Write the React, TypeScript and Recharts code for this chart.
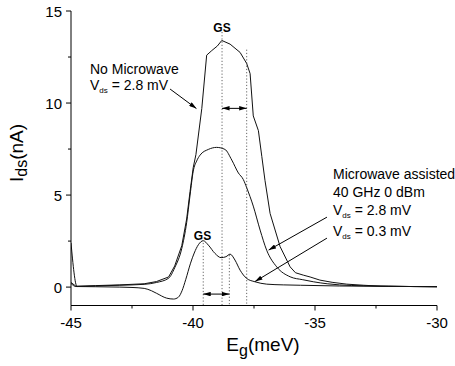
import React from 'react';
import { LineChart, Line, XAxis, YAxis, ReferenceLine } from 'recharts';

// No microwave, Vds = 2.8 mV
const noMwX = [-45, -44.8, -44, -43, -42, -41.5, -41, -40.75, -40.46, -40.26, -40.12, -39.99, -39.88, -39.64, -39.44, -39.23, -39.0, -38.82, -38.48, -38.07, -37.8, -37.66, -37.53, -37.32, -37.18, -37.05, -36.84, -36.43, -36.02, -35.8, -35.48, -35.2, -34.8, -34.3, -33.7, -33, -32.3, -31, -30];
const noMwY = [0.25, 0.05, 0.08, 0.12, 0.18, 0.3, 0.55, 1.15, 2.25, 3.7, 5.2, 6.5, 7.2, 9.7, 12.6, 12.85, 13.1, 13.4, 13.2, 12.75, 12.15, 11.6, 9.3, 8.5, 7.1, 5.8, 4.0, 2.2, 1.1, 0.78, 0.65, 0.55, 0.38, 0.26, 0.16, 0.1, 0.05, 0.03, 0.02];

// Microwave assisted, Vds = 2.8 mV
const mwHighX = [-45, -44.8, -44, -43, -42, -41.5, -41, -40.75, -40.46, -40.26, -40.12, -39.99, -39.85, -39.71, -39.37, -39.03, -38.69, -38.41, -38.14, -37.94, -37.8, -37.53, -37.25, -36.98, -36.57, -36.02, -35.5, -35.07, -34.5, -34, -33, -32, -31, -30];
const mwHighY = [0.2, 0.03, 0.06, 0.1, 0.15, 0.25, 0.48, 1.05, 2.1, 3.5, 5.0, 6.3, 6.85, 7.17, 7.48, 7.59, 7.48, 6.9, 6.2, 5.85, 5.4, 4.4, 3.1, 2.0, 1.1, 0.56, 0.4, 0.29, 0.18, 0.12, 0.07, 0.05, 0.03, 0.02];

// Microwave assisted, Vds = 0.3 mV
const mwLowX = [-45, -44.75, -44, -43, -42.5, -42, -41.7, -41.49, -41.08, -40.8, -40.6, -40.45, -40.3, -40.1, -39.95, -39.78, -39.58, -39.37, -39.1, -38.85, -38.65, -38.48, -38.28, -38.07, -37.8, -37.46, -36.98, -36.3, -35.6, -34, -32, -30];
const mwLowY = [2.4, 0.03, 0.02, 0.0, -0.02, -0.07, -0.2, -0.34, -0.6, -0.65, -0.55, -0.2, 0.4, 1.3, 1.85, 2.3, 2.52, 2.28, 1.83, 1.6, 1.65, 1.79, 1.47, 0.92, 0.47, 0.29, 0.16, 0.12, 0.1, 0.06, 0.04, 0.02];

const xTicks = [-45, -42.5, -40, -37.5, -35, -32.5, -30];
const xMajor = [-45, -40, -35, -30];
const yTicks = [0, 2.5, 5, 7.5, 10, 12.5, 15];
const yMajor = [0, 5, 10, 15];

// dotted guide lines: [x, top y]
const guides = [
  [-38.81, 13.86],
  [-37.8, 12.9],
  [-39.58, 2.4],
  [-38.51, 1.74],
];

// double arrows: [x1, x2, y]
const spans = [
  [-38.81, -37.8, 9.71],
  [-39.58, -38.51, -0.38],
];

// pointer arrows: [fromX, fromY, toX, toY]
const pointers = [
  [-40.94, 10.76, -39.86, 9.7],
  [-34.51, 3.8, -36.9, 2.01],
  [-34.51, 2.66, -37.46, 0.3],
];

const toPoints = (xs: number[], ys: number[]) => xs.map((x, i) => ({ x, y: ys[i] }));

const FONT = '"Liberation Sans", Arial, Helvetica, sans-serif';

const XTick = (props: any) => {
  const { x, y, payload } = props;
  const major = xMajor.includes(payload.value);
  return (
    <g>
      <line x1={x} y1={y} x2={x} y2={y + (major ? 5 : 3)} stroke="#000" />
      {major && (
        <text x={x} y={y + 22} textAnchor="middle" fontSize={15} fontFamily={FONT} fill="#000">
          {payload.value}
        </text>
      )}
    </g>
  );
};

const YTick = (props: any) => {
  const { x, y, payload } = props;
  const major = yMajor.includes(payload.value);
  return (
    <g>
      <line x1={x - (major ? 5 : 3)} y1={y} x2={x} y2={y} stroke="#000" />
      {major && (
        <text x={x - 9} y={y + 5.5} textAnchor="end" fontSize={15} fontFamily={FONT} fill="#000">
          {payload.value}
        </text>
      )}
    </g>
  );
};

const pointerShape = (p: any) => (
  <line x1={p.x1} y1={p.y1} x2={p.x2} y2={p.y2} stroke="#000" strokeWidth={1} markerEnd="url(#ah)" />
);

const spanShape = (p: any) => (
  <line x1={p.x1} y1={p.y1} x2={p.x2} y2={p.y2} stroke="#000" strokeWidth={1} markerStart="url(#ah)" markerEnd="url(#ah)" />
);

const Vds = ({ x, y, value }: { x: number; y: number; value: string }) => (
  <text x={x} y={y} fontSize={14} fontFamily={FONT} fill="#000">
    V<tspan fontSize={8} dy={3}>ds</tspan>
    <tspan dy={-3}>{` = ${value}`}</tspan>
  </text>
);

export default function App() {
  return (
    <div style={{ width: 455, height: 366 }}>
      <style>{'body{margin:0}'}</style>
      <LineChart width={455} height={366} margin={{ top: 11, right: 18, bottom: 30.5, left: 21 }}>
        <defs>
          <marker id="ah" viewBox="0 0 10 6" refX="10" refY="3" markerWidth="8" markerHeight="4.5" markerUnits="userSpaceOnUse" orient="auto-start-reverse">
            <path d="M0,0 L10,3 L0,6 z" fill="#000" />
          </marker>
        </defs>
        <XAxis
          dataKey="x"
          type="number"
          domain={[-45, -30]}
          ticks={xTicks}
          allowDataOverflow
          height={30}
          stroke="#000"
          tickSize={0}
          tickMargin={0}
          tickLine={false}
          tick={<XTick />}
        />
        <YAxis
          type="number"
          domain={[-1, 15]}
          ticks={yTicks}
          allowDataOverflow
          width={50}
          stroke="#000"
          tickSize={0}
          tickMargin={0}
          tickLine={false}
          tick={<YTick />}
        />
        {guides.map(([gx, gy], i) => (
          <ReferenceLine key={'g' + i} segment={[{ x: gx, y: gy }, { x: gx, y: -1 }]} stroke="#666" strokeDasharray="1.2 2" />
        ))}
        {spans.map(([x1, x2, sy], i) => (
          <ReferenceLine key={'s' + i} segment={[{ x: x1, y: sy }, { x: x2, y: sy }]} shape={spanShape} />
        ))}
        {pointers.map(([fx, fy, tx, ty], i) => (
          <ReferenceLine key={'p' + i} segment={[{ x: fx, y: fy }, { x: tx, y: ty }]} shape={pointerShape} />
        ))}
        <Line data={toPoints(noMwX, noMwY)} dataKey="y" type="linear" stroke="#111" strokeWidth={1} dot={false} isAnimationActive={false} />
        <Line data={toPoints(mwHighX, mwHighY)} dataKey="y" type="monotone" stroke="#111" strokeWidth={1} dot={false} isAnimationActive={false} />
        <Line data={toPoints(mwLowX, mwLowY)} dataKey="y" type="monotone" stroke="#111" strokeWidth={1} dot={false} isAnimationActive={false} />

        <text x={222} y={32} textAnchor="middle" fontSize={12} fontWeight="bold" fontFamily={FONT} fill="#000">GS</text>
        <text x={202.5} y={240} textAnchor="middle" fontSize={12} fontWeight="bold" fontFamily={FONT} fill="#000">GS</text>

        <text x={90} y={74} fontSize={14} fontFamily={FONT} fill="#000">No Microwave</text>
        <Vds x={90} y={90} value="2.8 mV" />

        <text x={333} y={179} fontSize={14} fontFamily={FONT} fill="#000">Microwave assisted</text>
        <text x={333} y={197} fontSize={14} fontFamily={FONT} fill="#000">40 GHz 0 dBm</text>
        <Vds x={333} y={215} value="2.8 mV" />
        <Vds x={333} y={236} value="0.3 mV" />

        <text transform="translate(23,153) rotate(-90)" textAnchor="middle" fontSize={19} fontFamily={FONT} fill="#000">
          I<tspan fontSize={16} dy={4}>ds</tspan>
          <tspan dy={-4}>(nA)</tspan>
        </text>
        <text x={263} y={351} textAnchor="middle" fontSize={19} fontFamily={FONT} fill="#000">
          E<tspan fontSize={16} dy={5}>g</tspan>
          <tspan dy={-5}>(meV)</tspan>
        </text>
      </LineChart>
    </div>
  );
}
